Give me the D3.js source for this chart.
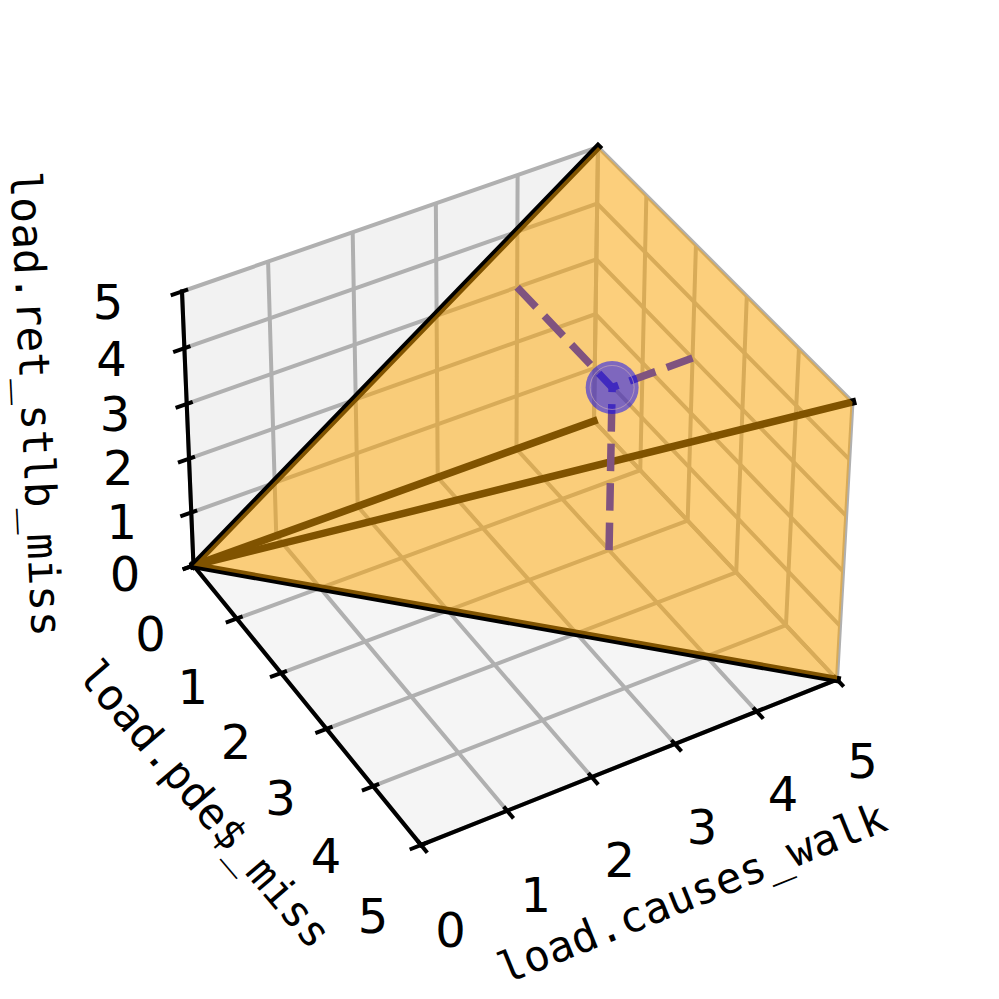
<!DOCTYPE html>
<html>
<head>
<meta charset="utf-8">
<script src="https://cdn.jsdelivr.net/npm/d3@7"></script>
<style>
html,body{margin:0;padding:0;background:#fff;}
svg{display:block;}
text{fill:#000;}
</style>
</head>
<body>
<svg id="chart" width="999" height="999"></svg>
<script>
// ---- data ----
const tickValues = [0, 1, 2, 3, 4, 5];
const tickLabels = ["0", "1", "2", "3", "4", "5"];
const xLabel = "load.causes_walk";
const yLabel = "load.pde$_miss";
const zLabel = "load.ret_stlb_miss";
const domain = [0, 5];
const apex = [0, 0, 0];
const rayEnds = [[5, 0, 0], [5, 0, 5], [5, 5, 5], [5, 5, 0]];
const hullOrder = [[0, 0, 0], [5, 0, 5], [5, 5, 5], [5, 5, 0]];
const point = [4, 2, 3];

// ---- camera (calibration of the unit cube onto the page) ----
const cam = {
  o: [193.5, 565.5],
  ex: [425.31, -126.92],
  ey: [201.54, 227.40],
  ez: [-19.03, -286.07],
  exz: [-1.56, -5.46],
  exyz: [0.48, 2.91],
  w: [0.04176, -0.06166, -0.0414]
};
const sx = d3.scaleLinear().domain(domain).range([0, 1]);
const sy = d3.scaleLinear().domain(domain).range([0, 1]);
const sz = d3.scaleLinear().domain(domain).range([0, 1]);
function project(p) {
  const u = sx(p[0]), v = sy(p[1]), t = sz(p[2]);
  const d = 1 + cam.w[0] * u + cam.w[1] * v + cam.w[2] * t;
  const c = i => cam.o[i] + cam.ex[i] * u + cam.ey[i] * v + cam.ez[i] * t
    + cam.exz[i] * u * t + cam.exyz[i] * u * v * t;
  return [c(0) / d, c(1) / d];
}
const path = d3.line().x(d => project(d)[0]).y(d => project(d)[1]);
const [lo, hi] = domain;

const svg = d3.select("#chart");

// ---- panes ----
const panes = [
  {fill: "#f2f2f2", pts: [[lo, lo, lo], [hi, lo, lo], [hi, lo, hi], [lo, lo, hi]]},
  {fill: "#f9f9f9", pts: [[hi, lo, lo], [hi, hi, lo], [hi, hi, hi], [hi, lo, hi]]},
  {fill: "#f5f5f5", pts: [[lo, lo, lo], [hi, lo, lo], [hi, hi, lo], [lo, hi, lo]]}
];
svg.append("g").selectAll("path").data(panes).join("path")
  .attr("d", d => path(d.pts) + "Z").attr("fill", d => d.fill).attr("stroke", "none");

// ---- grid ----
const gridLines = [];
tickValues.forEach(t => {
  gridLines.push([[t, hi, lo], [t, lo, lo], [t, lo, hi]]);
  gridLines.push([[lo, t, lo], [hi, t, lo], [hi, t, hi]]);
  gridLines.push([[lo, lo, t], [hi, lo, t], [hi, hi, t]]);
});
svg.append("g").selectAll("path").data(gridLines).join("path")
  .attr("d", path).attr("fill", "none").attr("stroke", "#b0b0b0")
  .attr("stroke-width", 4).attr("stroke-linejoin", "miter");

// ---- axes ----
const axisLines = [
  [[lo, hi, lo], [hi, hi, lo]],
  [[lo, lo, lo], [lo, hi, lo]],
  [[lo, lo, lo], [lo, lo, hi]]
];
svg.append("g").selectAll("path").data(axisLines).join("path")
  .attr("d", path).attr("fill", "none").attr("stroke", "#000")
  .attr("stroke-width", 4.1).attr("stroke-linecap", "square");

const tickIn = 0.07, tickOut = 0.13;
const tickLines = [];
tickValues.forEach(t => {
  tickLines.push([[t, hi - tickIn, lo], [t, hi + tickOut, lo]]);
  tickLines.push([[lo - tickOut, t, lo], [lo + tickIn, t, lo]]);
  tickLines.push([[lo - tickOut, lo, t], [lo + tickIn, lo, t]]);
});
svg.append("g").selectAll("path").data(tickLines).join("path")
  .attr("d", path).attr("fill", "none").attr("stroke", "#000").attr("stroke-width", 4);

// ---- tick labels ----
const tickFont = "DejaVu Sans";
const labelAxes = [
  {at: t => [t, hi, lo], dx: t => 29.5 - 0.8 * t, dy: t => 84.5 - 0.6 * t},
  {at: t => [lo, t, lo], dx: t => -43 - 1 * t, dy: t => 68 + 0.5 * t},
  {at: t => [lo, lo, t], dx: t => -68.5 - 1.1 * t, dy: t => 8.5 + 0.5 * t}
];
labelAxes.forEach(ax => {
  svg.append("g").selectAll("text").data(tickValues).join("text")
    .attr("x", d => project(ax.at(d))[0] + ax.dx(d))
    .attr("y", d => project(ax.at(d))[1] + ax.dy(d))
    .attr("text-anchor", "middle").attr("dominant-baseline", "central")
    .style("font-family", tickFont).style("font-size", "48px")
    .text((d, i) => tickLabels[i]);
});

// ---- axis labels ----
const axisTitles = [
  {text: xLabel, x: 692, y: 893, rot: -22},
  {text: yLabel, x: 205, y: 804, rot: 49.5},
  {text: zLabel, x: 36, y: 404, rot: 87.3}
];
svg.append("g").selectAll("text").data(axisTitles).join("text")
  .attr("transform", d => `translate(${d.x},${d.y}) rotate(${d.rot})`)
  .attr("text-anchor", "middle").attr("dominant-baseline", "central")
  .style("font-family", "DejaVu Sans Mono").style("font-size", "43px")
  .text(d => d.text);

// ---- rays (under the solid) ----
svg.append("g").selectAll("path").data(rayEnds).join("path")
  .attr("d", d => path([apex, d])).attr("fill", "none").attr("stroke", "#000")
  .attr("stroke-width", 7.5).attr("stroke-linecap", "square");

// ---- drop lines ----
const drops = [
  [[point[0], point[1], lo], point],
  [[point[0], lo, point[2]], point],
  [[hi, point[1], point[2]], point]
];
svg.append("g").selectAll("path").data(drops).join("path")
  .attr("d", path).attr("fill", "none").attr("stroke", "#0000ff")
  .attr("stroke-width", 7.5).attr("stroke-dasharray", "27.5,12");

// ---- solid ----
svg.append("path").attr("d", path(hullOrder) + "Z")
  .attr("fill", "#ffa500").attr("fill-opacity", 0.5).attr("stroke", "none");

// ---- point ----
const pp = project(point);
svg.append("circle").attr("cx", pp[0]).attr("cy", pp[1]).attr("r", 26.5)
  .attr("fill", "#0000ff").attr("fill-opacity", 0.5);
svg.append("circle").attr("cx", pp[0]).attr("cy", pp[1]).attr("r", 22)
  .attr("fill", "none").attr("stroke", "#d8b8b8").attr("stroke-opacity", 0.55).attr("stroke-width", 1);
</script>
</body>
</html>
